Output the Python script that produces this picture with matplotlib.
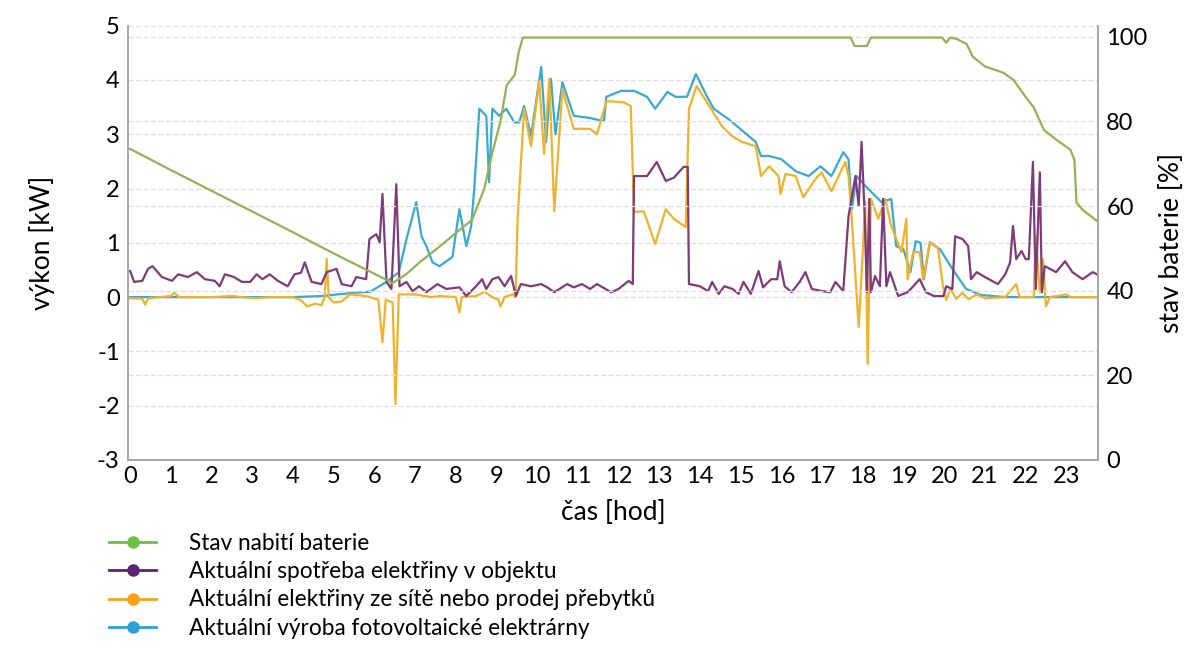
import matplotlib
matplotlib.use('Agg')
import matplotlib.pyplot as plt
from matplotlib.lines import Line2D

plt.rcParams['font.family'] = ['Lato', 'DejaVu Sans']
plt.rcParams['axes.unicode_minus'] = False

# stav baterie [%]
bat_t = [0, 1, 2, 3, 4, 5, 6, 6.45, 6.8, 7.1, 7.6, 8.1, 8.4, 8.7, 8.9, 9.1, 9.25,
         9.45, 9.55, 9.65, 17.7, 17.8, 18.1, 18.2, 19.95, 20.05, 20.15, 20.3, 20.55,
         20.7, 21.0, 21.45, 21.7, 22.0, 22.2, 22.45, 22.75, 23.1, 23.2, 23.25, 23.4, 23.75]
bat_v = [73.5, 68.5, 63.6, 58.7, 53.8, 48.8, 44.0, 41.8, 44.0, 46.6, 50.4, 54.4, 56.7,
         64.0, 72.6, 80.0, 88.5, 91.0, 96.5, 99.8, 99.8, 97.8, 97.8, 99.8, 99.8, 98.6,
         99.8, 99.5, 98.3, 95.3, 93.0, 91.5, 89.8, 85.8, 83.3, 78.0, 75.7, 73.3, 70.9,
         60.8, 59.1, 56.5]

# spotreba v objektu [kW]
load_t = [0, 0.1, 0.3, 0.44, 0.55, 0.78, 1.03, 1.18, 1.42, 1.64, 1.84, 2.08, 2.2, 2.33,
          2.55, 2.75, 2.95, 3.11, 3.25, 3.43, 3.63, 3.87, 4.04, 4.2, 4.29, 4.46, 4.7,
          4.83, 5.07, 5.2, 5.44, 5.56, 5.8, 5.88, 6.05, 6.13, 6.2, 6.3, 6.42, 6.54, 6.62,
          6.79, 6.94, 7.1, 7.28, 7.55, 7.77, 8.09, 8.26, 8.5, 8.65, 8.75, 8.9, 9.05, 9.2,
          9.36, 9.48, 9.6, 9.85, 10.1, 10.25, 10.42, 10.74, 10.9, 11.1, 11.3, 11.47,
          11.82, 12.0, 12.25, 12.35, 12.38, 12.7, 12.94, 13.16, 13.36, 13.6, 13.7, 13.73,
          14.0, 14.2, 14.3, 14.46, 14.6, 14.8, 14.95, 15.07, 15.25, 15.44, 15.55, 15.75,
          15.9, 15.96, 16.08, 16.25, 16.45, 16.59, 16.75, 17.0, 17.2, 17.33, 17.52, 17.65,
          17.82, 17.9, 17.97, 18.05, 18.1, 18.16, 18.2, 18.3, 18.42, 18.5, 18.58, 18.67,
          18.87, 19.1, 19.24, 19.4, 19.55, 19.75, 19.98, 20.05, 20.2, 20.27, 20.45, 20.59,
          20.66, 20.8, 21.0, 21.1, 21.32, 21.5, 21.62, 21.69, 21.77, 21.9, 22.0, 22.08,
          22.18, 22.25, 22.35, 22.4, 22.47, 22.75, 22.97, 23.15, 23.4, 23.65, 23.75]
load_v = [0.48, 0.28, 0.3, 0.52, 0.57, 0.37, 0.3, 0.42, 0.37, 0.46, 0.33, 0.3, 0.2, 0.42,
          0.37, 0.28, 0.28, 0.42, 0.33, 0.42, 0.3, 0.2, 0.42, 0.45, 0.64, 0.28, 0.24,
          0.46, 0.52, 0.24, 0.2, 0.37, 0.33, 1.07, 1.16, 1.01, 1.9, 0.28, 0.15, 2.08, 0.2,
          0.28, 0.11, 0.2, 0.09, 0.24, 0.15, 0.18, 0.02, 0.2, 0.33, 0.15, 0.33, 0.37, 0.2,
          0.39, 0.02, 0.24, 0.2, 0.24, 0.18, 0.09, 0.24, 0.18, 0.24, 0.15, 0.24,
          0.09, 0.15, 0.3, 0.24, 2.23, 2.23, 2.49, 2.14, 2.2, 2.4, 2.4, 0.24,
          0.2, 0.11, 0.28, 0.06, 0.2, 0.15, 0.06, 0.28, 0.06, 0.48, 0.18, 0.33,
          0.33, 0.66, 0.2, 0.09, 0.28, 0.46, 0.15, 0.11, 0.09, 0.28, 0.11, 1.49,
          2.23, 1.68, 2.86, 1.44, 0.09, 1.81, 0.09, 0.39, 0.2, 1.81, 0.2, 0.46,
          0.02, 0.09, 0.2, 0.33, 0.09, 0.02, 0.02, 0.2, 0.15, 1.12, 1.07, 0.94,
          0.33, 0.46, 0.37, 0.33, 0.24, 0.42, 0.64, 1.31, 0.7, 0.85, 0.7, 0.7,
          2.49, 0.15, 2.3, 0.09, 0.57, 0.46, 0.66, 0.46, 0.33, 0.46, 0.42]

# odber ze site / prodej prebytku [kW]
grid_t = [0, 0.3, 0.37, 0.45, 1.0, 1.08, 1.2, 2.0, 2.5, 3.0, 3.5, 4.0, 4.2, 4.35, 4.55,
          4.7, 4.78, 4.83, 4.88, 5.0, 5.2, 5.4, 5.8, 6.1, 6.2, 6.28, 6.45, 6.52, 6.6,
          7.0, 7.4, 7.6, 8.0, 8.09, 8.15, 8.5, 8.7, 8.9, 9.05, 9.1, 9.2, 9.4, 9.47, 9.52,
          9.68, 9.85, 10.05, 10.17, 10.3, 10.42, 10.62, 10.9, 11.3, 11.47, 11.7, 12.13,
          12.3, 12.38, 12.62, 12.9, 13.16, 13.36, 13.65, 13.73, 13.92, 14.17, 14.54,
          14.78, 15.03, 15.37, 15.5, 15.7, 15.93, 15.98, 16.1, 16.35, 16.54, 16.83,
          16.99, 17.23, 17.57, 17.65, 17.73, 17.9, 18.0, 18.06, 18.12, 18.2, 18.38,
          18.55, 18.7, 18.95, 19.07, 19.1, 19.24, 19.4, 19.48, 19.65, 19.85, 19.97,
          20.05, 20.15, 20.3, 20.45, 20.6, 20.8, 21.0, 21.5, 21.77, 21.85, 22.2, 22.25,
          22.35, 22.43, 22.5, 22.6, 23.0, 23.1, 23.75]
grid_v = [-0.02, -0.03, -0.14, -0.02, 0.02, 0.08, 0.0, 0.0, 0.02, -0.02, 0.0, 0.0, -0.06,
          -0.17, -0.12, -0.15, 0.0, 0.7, 0.0, -0.1, -0.08, 0.05, 0.02, -0.05, -0.83, -0.05,
          -0.1, -1.97, 0.05, 0.05, 0.0, 0.02, 0.0, -0.28, 0.0, 0.02, 0.1, 0.0, -0.05,
          -0.17, 0.0, 0.05, 0.0, 1.44, 3.47, 2.78, 3.98, 2.64, 4.02, 1.58, 3.83, 3.1, 3.1,
          3.0, 3.61, 3.59, 3.52, 1.57, 1.58, 0.98, 1.62, 1.44, 1.29, 3.47, 3.89, 3.59,
          3.15, 2.97, 2.86, 2.78, 2.23, 2.41, 2.23, 1.9, 2.27, 2.23, 1.84, 2.17, 2.3, 1.95,
          2.49, 2.23, 1.44, -0.55, 0.83, 1.75, -1.23, 1.81, 1.44, 1.81, 1.31, 0.83, 1.44,
          0.33, 0.83, 0.83, 0.33, 1.0, 0.9, 0.2, -0.05, 0.15, -0.03, 0.08, -0.04, 0.05,
          -0.02, 0.0, 0.24, 0.0, 0.0, 1.12, 0.09, 0.7, -0.17, 0.0, 0.05, 0.0, 0.0]

# vyroba FVE [kW]
pv_t = [0, 4.0, 4.7, 5.5, 5.9, 6.3, 6.6, 6.8, 7.03, 7.16, 7.28, 7.43, 7.6, 7.92, 8.09,
        8.26, 8.38, 8.46, 8.58, 8.75, 8.82, 8.9, 9.07, 9.24, 9.44, 9.56, 9.68, 9.85,
        10.1, 10.22, 10.34, 10.45, 10.62, 10.9, 11.3, 11.64, 11.7, 12.06, 12.38, 12.7,
        12.9, 13.2, 13.4, 13.68, 13.9, 14.17, 14.34, 14.7, 15.37, 15.5, 15.7, 16.0,
        16.35, 16.67, 16.96, 17.23, 17.52, 17.65, 17.73, 17.85, 18.06, 18.46, 18.7,
        18.82, 19.0, 19.17, 19.3, 19.42, 19.5, 19.65, 19.9, 20.2, 20.54, 20.9, 21.5, 23.75]
pv_v = [0.0, 0.0, 0.02, 0.08, 0.1, 0.28, 0.46, 1.1, 1.75, 1.12, 0.94, 0.64, 0.57, 0.74,
        1.62, 0.94, 1.31, 2.05, 3.47, 3.34, 2.12, 3.47, 3.34, 3.47, 3.22, 3.22, 3.52,
        2.97, 4.24, 2.86, 4.02, 3.0, 3.96, 3.34, 3.3, 3.24, 3.69, 3.8, 3.8, 3.69, 3.47,
        3.78, 3.69, 3.69, 4.11, 3.7, 3.47, 3.28, 2.86, 2.6, 2.6, 2.54, 2.32, 2.23, 2.41,
        2.23, 2.67, 2.54, 1.62, 2.23, 2.05, 1.75, 1.81, 0.94, 0.88, 0.46, 1.03, 1.0, 0.33,
        1.01, 0.88, 0.52, 0.15, 0.04, 0.0, 0.0]

hodiny = list(range(24))
nazvy = ['Stav nabití baterie',
         'Aktuální spotřeba elektřiny v objektu',
         'Aktuální elektřiny ze sítě nebo prodej přebytků',
         'Aktuální výroba fotovoltaické elektrárny']

fig = plt.figure(figsize=(11.89, 6.46), dpi=100)
ax1 = fig.add_axes([0.1077, 0.288, 0.8158, 0.6722])
ax2 = ax1.twinx()

seda = '#a6a6a6'
for y in range(-3, 6):
    ax1.axhline(y, color='#dedede', lw=0.9, ls=(0, (4, 2)), zorder=0)
for y in range(20, 101, 20):
    ax2.axhline(y, color='#dedede', lw=0.9, ls=(0, (4, 2)), zorder=0)

ax1.plot(pv_t, pv_v, color='#3aa8cf', lw=1.6, zorder=3)
ax1.plot(grid_t, grid_v, color='#f0b22a', lw=1.6, zorder=4)
ax1.plot(load_t, load_v, color='#7d3b7a', lw=1.6, zorder=5)
ax2.plot(bat_t, bat_v, color='#93b257', lw=1.6, zorder=2)

ax1.set_xlim(-0.05, 23.78)
ax1.set_ylim(-3, 5)
ax2.set_ylim(0, 102.6)
ax1.set_xticks(hodiny)
ax1.set_yticks(range(-3, 6))
ax2.set_yticks(range(0, 101, 20))
ax1.tick_params(axis='both', length=0, labelsize=17, pad=6)
ax2.tick_params(axis='y', length=0, labelsize=17, pad=6)
ax1.tick_params(axis='x', pad=4)

for ax in (ax1, ax2):
    ax.spines['top'].set_visible(False)
    for s in ('left', 'right', 'bottom'):
        ax.spines[s].set_color(seda)
        ax.spines[s].set_linewidth(1.2)

ax1.set_xlabel('čas [hod]', fontsize=19, labelpad=10)
ax1.set_ylabel('výkon [kW]', fontsize=19, labelpad=30)
ax2.set_ylabel('stav baterie [%]', fontsize=19, labelpad=8)

barvy = ['#6dbf45', '#5c2170', '#f7a21b', '#2e9fd8']
handles = [Line2D([0], [0], color=c, lw=2, marker='o', markersize=8) for c in barvy]
fig.legend(handles, nazvy, loc='upper left', bbox_to_anchor=(0.092, 0.175),
           frameon=False, fontsize=16.3, handlelength=2.05, handletextpad=1.45,
           labelspacing=0.32, borderaxespad=0, borderpad=0)

fig.savefig('out.png', dpi=100)
